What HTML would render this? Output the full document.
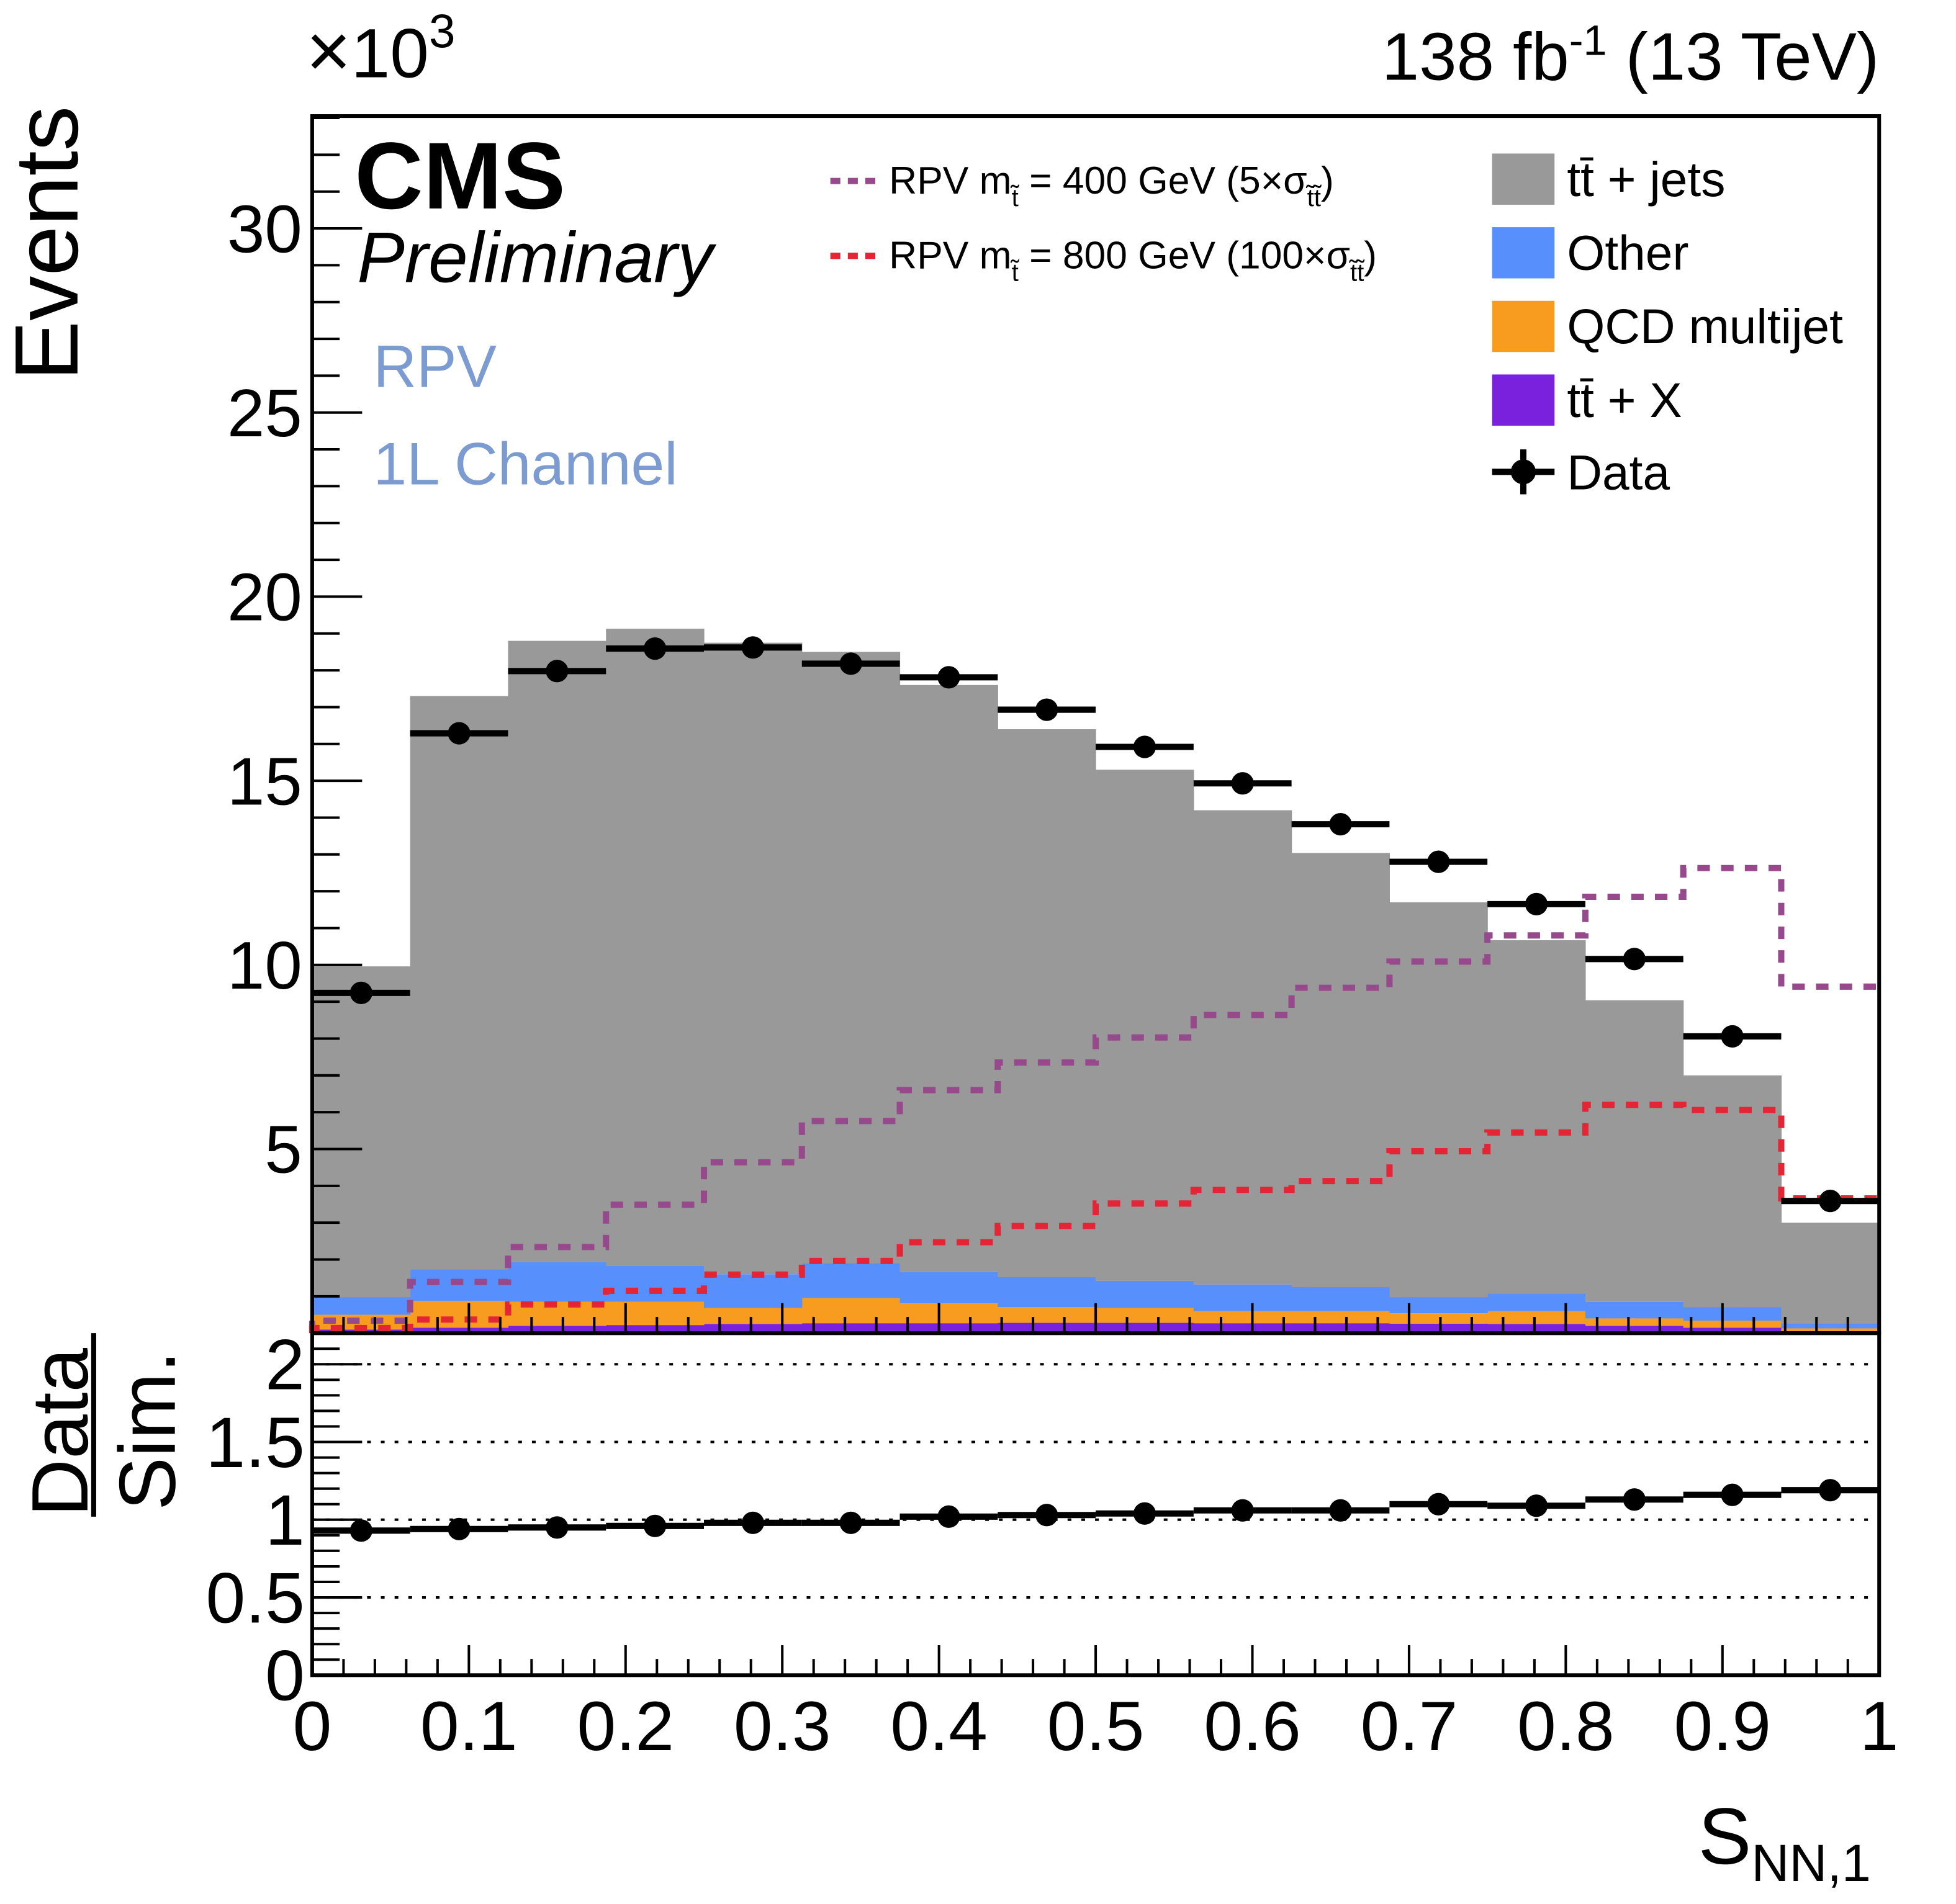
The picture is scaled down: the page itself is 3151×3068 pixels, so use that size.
<!DOCTYPE html>
<html><head><meta charset="utf-8"><style>
html,body{margin:0;padding:0;background:#fff}
svg{display:block;font-family:"Liberation Sans",sans-serif}
</style></head><body>
<svg id="c" width="3151" height="3068" viewBox="0 0 1566.5 1525.3" xmlns="http://www.w3.org/2000/svg">
<g id="stack"></g>
<g id="sig"></g>
<g id="dat"></g>
<g id="axes"></g>
<g id="txt">
<text transform="translate(62,305) rotate(-90)" font-size="72">Events</text>
<text x="245" y="62" font-size="56"><tspan font-size="62">×</tspan>10<tspan dy="-24" font-size="38">3</tspan></text>
<text x="1505" y="64" font-size="54" text-anchor="end">138 fb<tspan dy="-20" font-size="34">-1</tspan><tspan dy="20"> (13 TeV)</tspan></text>
<text x="284" y="167" font-size="76" font-weight="bold">CMS</text>
<text x="286" y="226" font-size="57" font-style="italic">Preliminary</text>
<text x="299" y="310" font-size="48" fill="#7b9bd1">RPV</text>
<text x="299" y="388" font-size="48" fill="#7b9bd1">1L Channel</text>
<text transform="translate(70,1215) rotate(-90)" font-size="64">Data</text>
<line x1="75" y1="1068" x2="75" y2="1215" stroke="#000" stroke-width="4"/>
<text transform="translate(140,1210) rotate(-90)" font-size="64">Sim.</text>
<text x="1360" y="1493" font-size="64">S<tspan dy="14" font-size="42">NN,1</tspan></text>
</g>
<g id="leg"></g>
</svg>
<script>
const edges=[0,0.0625,0.125,0.1875,0.25,0.3125,0.375,0.4375,0.5,0.5625,0.625,0.6875,0.75,0.8125,0.875,0.9375,1];
const ttXVals=[0.1,0.15,0.2,0.22,0.25,0.27,0.27,0.28,0.28,0.27,0.27,0.26,0.25,0.2,0.15,0.05];
const qcdVals=[0.4,0.73,0.65,0.63,0.43,0.68,0.54,0.43,0.4,0.33,0.33,0.28,0.35,0.2,0.19,0.08];
const otherVals=[0.48,0.85,1.08,0.98,0.92,0.95,0.85,0.81,0.74,0.72,0.65,0.44,0.48,0.45,0.37,0.14];
const ttjetsVals=[8.98,15.57,16.87,17.3,17.15,16.6,15.94,14.88,13.88,12.88,11.79,10.72,9.59,8.19,6.29,2.73];
const dataVals=[9.24,16.29,17.98,18.59,18.62,18.18,17.81,16.93,15.92,14.93,13.82,12.8,11.65,10.16,8.06,3.59];
const rpv400Vals=[0.34,1.39,2.34,3.49,4.64,5.76,6.6,7.35,8.03,8.64,9.38,10.09,10.8,11.85,12.63,9.41];
const rpv800Vals=[0.14,0.37,0.78,1.15,1.59,1.96,2.47,2.91,3.52,3.89,4.13,4.94,5.45,6.2,6.06,3.66];
const ratioVals=[0.93,0.94,0.95,0.96,0.98,0.98,1.02,1.03,1.04,1.06,1.06,1.1,1.09,1.13,1.16,1.19];
const yTicks=[5,10,15,20,25,30];
const rTicks=[0,0.5,1,1.5,2];
const xTicks=[0,0.1,0.2,0.3,0.4,0.5,0.6,0.7,0.8,0.9,1];

const NS="http://www.w3.org/2000/svg";
const X0=250,X1=1505,TOP=93,MB=1068,RB=1342;
const sx=v=>X0+v*(X1-X0);
const sy=v=>MB-v*(MB-TOP)/33.05;
const sr=v=>RB-v*(RB-MB)/2.2;
function mk(p,tag,attrs){const e=document.createElementNS(NS,tag);for(const k in attrs)e.setAttribute(k,attrs[k]);p.appendChild(e);return e;}
const G=id=>document.getElementById(id);

const layers=[[ttXVals,'#7a21dd','ttx'],[qcdVals,'#f89c20','qcd'],[otherVals,'#5790fc','other'],[ttjetsVals,'#999999','ttjets']];
const cum=new Array(16).fill(0);
layers.forEach(([vals,col,nm])=>{
  for(let i=0;i<16;i++){
    const lo=cum[i],hi=cum[i]+vals[i];
    const r=mk(G('stack'),'rect',{x:sx(edges[i]),y:sy(hi),width:sx(edges[i+1])-sx(edges[i])+0.3,height:sy(lo)-sy(hi),fill:col});
    
    
    cum[i]=hi;
  }
});
function stepPath(vals){let d='M'+sx(0)+','+sy(0);for(let i=0;i<16;i++){d+=' L'+sx(edges[i])+','+sy(vals[i])+' L'+sx(edges[i+1])+','+sy(vals[i]);}return d;}
const s4=mk(G('sig'),'path',{d:stepPath(rpv400Vals),fill:'none',stroke:'#964a8b','stroke-width':5,'stroke-dasharray':'10,9'});


const s8=mk(G('sig'),'path',{d:stepPath(rpv800Vals),fill:'none',stroke:'#e42536','stroke-width':5,'stroke-dasharray':'10,9'});


for(let i=0;i<16;i++){
  const cx=sx((edges[i]+edges[i+1])/2);
  const l=mk(G('dat'),'line',{x1:sx(edges[i]),x2:sx(edges[i+1]),y1:sy(dataVals[i]),y2:sy(dataVals[i]),stroke:'#000','stroke-width':5});
  
  
  const c=mk(G('dat'),'circle',{cx:cx,cy:sy(dataVals[i]),r:9,fill:'#000'});
  
  
  const l2=mk(G('dat'),'line',{x1:sx(edges[i]),x2:sx(edges[i+1]),y1:sr(ratioVals[i]),y2:sr(ratioVals[i]),stroke:'#000','stroke-width':5});
  
  
  const c2=mk(G('dat'),'circle',{cx:cx,cy:sr(ratioVals[i]),r:9,fill:'#000'});
  
  
}
const A=G('axes');
const fr=mk(A,'rect',{x:X0,y:TOP,width:X1-X0,height:MB-TOP,fill:'none',stroke:'#000','stroke-width':3});


const fr2=mk(A,'rect',{x:X0,y:MB,width:X1-X0,height:RB-MB,fill:'none',stroke:'#000','stroke-width':3});


for(let v=1;v<=33;v++){const L=(v%5===0)?40:22;mk(A,'line',{x1:X0,x2:X0+L,y1:sy(v),y2:sy(v),stroke:'#000','stroke-width':2});}
yTicks.forEach(v=>{const t=mk(A,'text',{x:X0-8,y:sy(v)+19,'font-size':54,'text-anchor':'end'});t.textContent=v;
  
  });
for(let k=1;k<=21;k++){const v=k/10;const L=(k%5===0)?40:22;mk(A,'line',{x1:X0,x2:X0+L,y1:sr(v),y2:sr(v),stroke:'#000','stroke-width':2});}
rTicks.forEach(v=>{const t=mk(A,'text',{x:X0-6,y:sr(v)+20,'font-size':57,'text-anchor':'end'});t.textContent=v;
  
  
  if(v>0){const g=mk(A,'line',{x1:X0,x2:X1,y1:sr(v),y2:sr(v),stroke:'#000','stroke-width':2,'stroke-dasharray':'3,8'});
  
  }});
for(let k=1;k<50;k++){const v=k/50;const L=(k%5===0)?24:13;
  mk(A,'line',{x1:sx(v),x2:sx(v),y1:MB,y2:MB-L,stroke:'#000','stroke-width':2});
  mk(A,'line',{x1:sx(v),x2:sx(v),y1:RB,y2:RB-L,stroke:'#000','stroke-width':2});}
xTicks.forEach(v=>{const t=mk(A,'text',{x:sx(v),y:1402,'font-size':56,'text-anchor':'middle'});t.textContent=v;
  
  });
const Lg=G('leg');
const ents=[['#999999','tt̄ + jets'],['#5790fc','Other'],['#f89c20','QCD multijet'],['#7a21dd','tt̄ + X']];
ents.forEach(([c,t],i)=>{const y=143+i*59;
  const r=mk(Lg,'rect',{x:1195,y:y-20,width:50,height:41,fill:c});
  
  
  const tx=mk(Lg,'text',{x:1255,y:y+14,'font-size':39});tx.textContent=t;
  
  });
mk(Lg,'line',{x1:1195,x2:1245,y1:378,y2:378,stroke:'#000','stroke-width':5});
mk(Lg,'line',{x1:1220,x2:1220,y1:360,y2:396,stroke:'#000','stroke-width':5});
mk(Lg,'circle',{cx:1220,cy:378,r:10,fill:'#000'});
const dt=mk(Lg,'text',{x:1255,y:392,'font-size':39});dt.textContent='Data';


[['#964a8b',145,'400 GeV (5×σ'],['#e42536',205,'800 GeV (100×σ']].forEach(([c,y,s])=>{
  mk(Lg,'line',{x1:665,x2:705,y1:y,y2:y,stroke:c,'stroke-width':5,'stroke-dasharray':'8,6'});
  const t=mk(Lg,'text',{x:712,y:y+10,'font-size':31});
  t.innerHTML='RPV m<tspan dy="10" font-size="20">t̃</tspan><tspan dy="-10"> = '+s+'</tspan><tspan dy="10" font-size="20">t̃t̃</tspan><tspan dy="-10">)</tspan>';
  
  
});
</script>
</body></html>
